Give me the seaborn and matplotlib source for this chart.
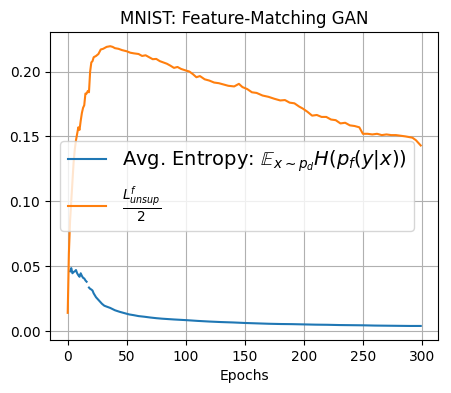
import numpy as np
import pandas as pd
import matplotlib
matplotlib.use("Agg")
import matplotlib.pyplot as plt
import seaborn as sns

# avg. entropy (blue); NaN marks the short gap
entropy_epochs = [2, 3, 4, 5, 6, 7, 8, 9, 10, 11, 12, 13, 14, 15, 16, 17, 18, 19, 20, 21,
                  22, 23, 24, 25, 27, 29, 31, 33, 36, 40, 44, 48, 52, 56, 60, 65, 70, 75,
                  80, 90, 100, 110, 120, 130, 140, 150, 160, 170, 180, 190, 200, 210, 220,
                  230, 240, 250, 260, 270, 280, 290, 299]
entropy_vals = [0.046, 0.0485, 0.0445, 0.0455, 0.046, 0.047, 0.0445, 0.043, 0.0418, 0.0445,
                0.0425, 0.041, 0.0405, 0.039, 0.038, np.nan, 0.0335, 0.0325, 0.032, 0.0312,
                0.029, 0.0275, 0.026, 0.025, 0.023, 0.021, 0.0195, 0.0188, 0.0178, 0.016,
                0.0148, 0.0138, 0.0128, 0.0122, 0.0115, 0.011, 0.0104, 0.0099, 0.0095,
                0.0089, 0.0084, 0.0078, 0.0073, 0.0069, 0.0066, 0.0062, 0.0059, 0.0056,
                0.0054, 0.0053, 0.0051, 0.0049, 0.0048, 0.0046, 0.0045, 0.0044, 0.0042,
                0.0041, 0.004, 0.0039, 0.0039]

# L_unsup / 2 (orange)
loss_epochs = [0, 1, 2, 3, 4, 5, 6, 7, 8, 9, 10, 11, 12, 13, 14, 15, 16, 17, 18, 19, 20, 21,
               22, 24, 26, 28, 30, 33, 36, 38, 40, 43, 46, 50, 53, 56, 60, 63, 66, 69, 72,
               75, 78, 81, 84, 87, 90, 93, 96, 100, 103, 106, 109, 112, 116, 120, 124, 128,
               132, 136, 141, 145, 148, 152, 156, 160, 165, 170, 175, 180, 184, 188, 192,
               196, 199, 203, 207, 211, 215, 219, 223, 227, 231, 235, 239, 243, 247, 250,
               254, 258, 262, 266, 270, 274, 278, 282, 286, 289, 292, 295, 297, 299]
loss_vals = [0.014, 0.06, 0.085, 0.1, 0.115, 0.13, 0.14, 0.147, 0.152, 0.157, 0.155, 0.162,
             0.168, 0.172, 0.174, 0.183, 0.183, 0.185, 0.184, 0.2, 0.207, 0.208, 0.211,
             0.212, 0.2135, 0.217, 0.2175, 0.219, 0.2195, 0.219, 0.218, 0.2175, 0.2165,
             0.2156, 0.2145, 0.214, 0.2135, 0.212, 0.2125, 0.211, 0.2095, 0.2097, 0.208,
             0.207, 0.206, 0.2045, 0.2028, 0.2035, 0.202, 0.2008, 0.2, 0.198, 0.1956,
             0.1965, 0.194, 0.193, 0.1915, 0.191, 0.19, 0.189, 0.1885, 0.1905, 0.188,
             0.1865, 0.184, 0.1835, 0.1815, 0.1805, 0.179, 0.1777, 0.178, 0.176, 0.1755,
             0.173, 0.1715, 0.169, 0.166, 0.1665, 0.165, 0.165, 0.163, 0.1625, 0.16, 0.1605,
             0.1585, 0.158, 0.157, 0.152, 0.152, 0.1515, 0.152, 0.151, 0.1515, 0.151, 0.151,
             0.1505, 0.15, 0.1495, 0.149, 0.147, 0.145, 0.143]

df_ent = pd.DataFrame({"epoch": entropy_epochs, "value": entropy_vals})
df_loss = pd.DataFrame({"epoch": loss_epochs, "value": loss_vals})

fig, ax = plt.subplots(figsize=(4.51, 3.93), dpi=100)
fig.subplots_adjust(left=0.111, right=0.972, top=0.918, bottom=0.135)

# draw blue in two pieces so the gap stays
gap = df_ent["value"].isna()
first = df_ent.iloc[:gap.idxmax()]
second = df_ent.iloc[gap.idxmax() + 1:]
sns.lineplot(data=first, x="epoch", y="value", ax=ax, color="#1f77b4",
             label=r"Avg. Entropy: $\mathbb{E}_{x\sim p_d}H(p_f(y|x))$")
sns.lineplot(data=second, x="epoch", y="value", ax=ax, color="#1f77b4")
sns.lineplot(data=df_loss, x="epoch", y="value", ax=ax, color="#ff7f0e",
             label=r"$\frac{L^f_{unsup}}{2}$")

ax.grid(True)
ax.set_title("MNIST: Feature-Matching GAN")
ax.set_xlabel("Epochs")
ax.set_ylabel("")
ax.set_xticks([0, 50, 100, 150, 200, 250, 300])
ax.legend(loc="center left", fontsize=14)

fig.savefig("out.png", dpi=100)
